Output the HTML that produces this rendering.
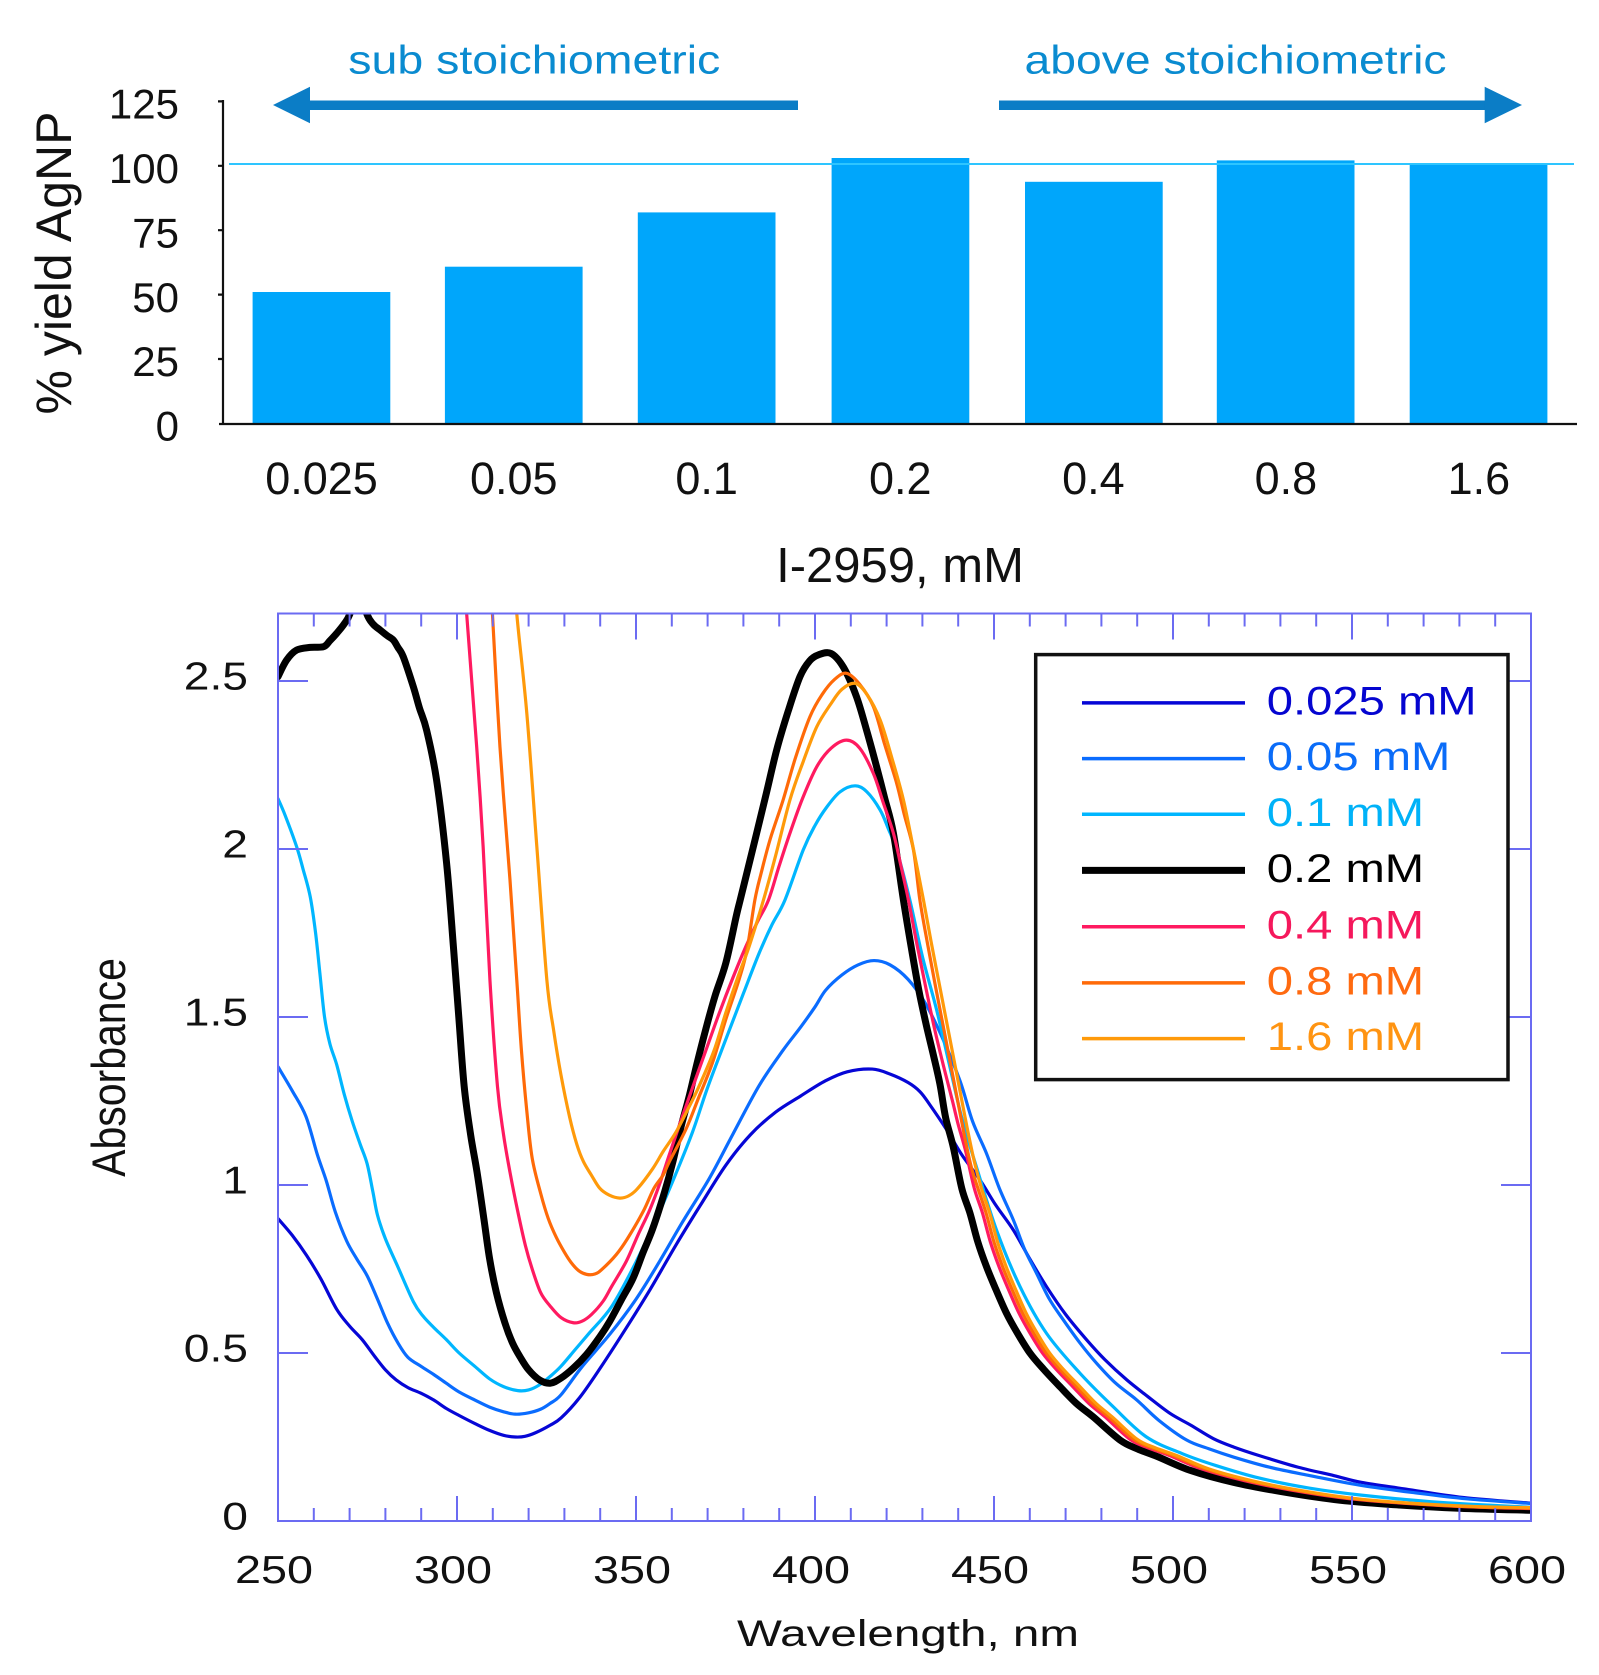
<!DOCTYPE html>
<html>
<head>
<meta charset="utf-8">
<style>
html,body{margin:0;padding:0;background:#fff;}
svg{display:block}
</style>
</head>
<body>
<svg id="chart" width="1599" height="1675" viewBox="0 0 1599 1675" xmlns="http://www.w3.org/2000/svg" font-family="'Liberation Sans', Arial, sans-serif">
<rect x="0" y="0" width="1599" height="1675" fill="#fff"/>

<!-- ===== TOP BAR CHART ===== -->
<text x="348.3" y="73.3" font-size="40" fill="#0a8bd0" textLength="372" lengthAdjust="spacingAndGlyphs">sub stoichiometric</text>
<text x="1024.5" y="73.3" font-size="40" fill="#0a8bd0" textLength="422" lengthAdjust="spacingAndGlyphs">above stoichiometric</text>
<polygon points="273,105 310,86.7 310,123.3" fill="#0b7dc6"/>
<rect x="308" y="100.5" width="490" height="9.5" fill="#0b7dc6"/>
<rect x="999" y="100.5" width="488" height="9.5" fill="#0b7dc6"/>
<polygon points="1522,105 1484.7,86.7 1484.7,123.3" fill="#0b7dc6"/>

<g fill="#00a6fb">
<rect x="252.6" y="292" width="137.7" height="131.6"/>
<rect x="444.9" y="266.7" width="137.7" height="156.9"/>
<rect x="637.8" y="212.4" width="137.7" height="211.2"/>
<rect x="831.6" y="158" width="137.7" height="265.6"/>
<rect x="1025" y="181.8" width="137.7" height="241.8"/>
<rect x="1216.8" y="160.4" width="137.7" height="263.2"/>
<rect x="1409.7" y="164.6" width="137.7" height="259"/>
</g>
<line x1="229" y1="164" x2="1574" y2="164" stroke="#2ec5ff" stroke-width="2"/>

<g stroke="#111" stroke-width="2.2" fill="none">
<line x1="223" y1="100" x2="223" y2="424"/>
<line x1="219" y1="424" x2="1577" y2="424"/>
<path d="M218 101.4H223M218 165.8H223M218 230.2H223M218 294.6H223M218 359H223"/>
</g>

<g font-size="42" fill="#111" text-anchor="end">
<text x="179" y="118.6">125</text>
<text x="179" y="183">100</text>
<text x="179" y="247.4">75</text>
<text x="179" y="311.8">50</text>
<text x="179" y="376.2">25</text>
<text x="179" y="440.6">0</text>
</g>
<text transform="translate(71,263) rotate(-90)" font-size="50" fill="#111" text-anchor="middle">% yield AgNP</text>

<g font-size="45" fill="#111" text-anchor="middle">
<text x="321.5" y="494">0.025</text>
<text x="513.8" y="494">0.05</text>
<text x="706.7" y="494">0.1</text>
<text x="900.3" y="494">0.2</text>
<text x="1093.4" y="494">0.4</text>
<text x="1285.9" y="494">0.8</text>
<text x="1478.9" y="494">1.6</text>
</g>
<text x="900" y="582" font-size="49" fill="#111" text-anchor="middle">I-2959, mM</text>

<!-- ===== BOTTOM SPECTRA CHART ===== -->
<defs>
<clipPath id="pc"><rect x="278" y="613.5" width="1253" height="907.5"/></clipPath>
</defs>

<g clip-path="url(#pc)" fill="none" stroke-linejoin="round" stroke-linecap="round">
<g transform="matrix(3.58 0 0 -336 -617 1521)">
<polyline class="s" vector-effect="non-scaling-stroke" stroke="#0606d6" stroke-width="3.2" points="250,0.90 254,0.85 258,0.79 262,0.72 266.4,0.63 270,0.58 273.5,0.54 277,0.49 280,0.45 283,0.42 286.3,0.397 290,0.38 293.5,0.36 297,0.335 300.6,0.314 305,0.29 309,0.27 313,0.255 316.3,0.25 319,0.252 322,0.263 326,0.285 329.1,0.307 334.3,0.368 340,0.455 347.3,0.575 354,0.69 361.2,0.822 368,0.94 375.1,1.059 382,1.15 389,1.217 396,1.265 402.9,1.31 409,1.337 416,1.345 421,1.33 426,1.305 429.3,1.278 432,1.24 436.8,1.164 441,1.09 446.1,1.015 450.5,0.94 455.4,0.866 460,0.78 464.7,0.697 470,0.615 475.9,0.539 481,0.48 487.1,0.42 493,0.37 499.2,0.32 505,0.285 511.3,0.245 517,0.22 524,0.195 535,0.16 545,0.135 552.6,0.115 565,0.095 581,0.07 600,0.053"/>
<polyline class="s" vector-effect="non-scaling-stroke" stroke="#0a6cff" stroke-width="3.2" points="250,1.352 254,1.28 257.8,1.204 261,1.09 263.5,1.012 266,0.92 269.2,0.833 272,0.78 274.9,0.73 277.8,0.66 280.6,0.589 283.5,0.53 286.3,0.487 290,0.46 293.5,0.436 297,0.41 300.6,0.384 305,0.36 309.1,0.339 313,0.325 316.3,0.318 320,0.322 323.4,0.333 326,0.35 329,0.375 335,0.46 342.7,0.556 350,0.66 356.6,0.773 363,0.89 370.5,1.02 377,1.15 384.4,1.296 391,1.40 396,1.47 400,1.53 403,1.58 407.5,1.625 412,1.655 416.5,1.668 421,1.655 426,1.612 430.7,1.543 435.5,1.44 440.5,1.31 444,1.19 447.9,1.094 451.5,0.99 455.4,0.896 458.5,0.81 461.9,0.737 465.5,0.66 469.4,0.598 474,0.53 478.7,0.469 484,0.41 489.9,0.36 496,0.30 503.8,0.241 510,0.215 517,0.19 527,0.16 538.3,0.135 552,0.107 566.8,0.085 582,0.066 600,0.052"/>
<polyline class="s" vector-effect="non-scaling-stroke" stroke="#00b6ff" stroke-width="3.2" points="250,2.15 252,2.10 255.2,2.007 257,1.94 259,1.858 260.5,1.75 261.7,1.63 263,1.50 264.5,1.42 266.4,1.358 268.5,1.27 270.7,1.191 273,1.12 274.9,1.063 276.5,0.98 277.8,0.91 280,0.84 283.5,0.756 287.8,0.653 290.5,0.61 293.5,0.576 297,0.54 300.6,0.5 305,0.46 309.1,0.423 313,0.40 317,0.388 320,0.39 323,0.405 326,0.43 329,0.46 333,0.51 337,0.56 343.3,0.64 350.1,0.773 356.6,0.921 361,1.03 365.8,1.158 370,1.29 375.1,1.434 380,1.57 384.4,1.69 388,1.775 391.6,1.848 396.7,1.997 400,2.07 403.3,2.125 407,2.17 411.2,2.188 414.5,2.17 418.2,2.116 420.5,2.06 422.8,1.997 426.5,1.848 430,1.68 434,1.52 437.5,1.36 441,1.20 445.2,1.05 450.7,0.866 457.3,0.697 464.7,0.558 474,0.44 483.3,0.34 492.6,0.25 502.7,0.20 512,0.165 524,0.128 538,0.098 552.6,0.077 575,0.055 600,0.041"/>
<polyline class="s" vector-effect="non-scaling-stroke" stroke="#000" stroke-width="7" points="250,2.513 252.4,2.562 255.2,2.592 259,2.600 262.7,2.602 264.5,2.62 266.4,2.642 268.5,2.67 270.1,2.70 272.5,2.78 274.8,2.70 276.5,2.67 278.5,2.652 280.5,2.635 282.2,2.622 283.5,2.60 285,2.572 287.8,2.483 289.5,2.42 291.5,2.354 294.3,2.205 297.1,1.957 299,1.709 300.5,1.5 302,1.294 303.8,1.15 305.6,1.038 307.5,0.9 309.1,0.781 311,0.68 313.4,0.589 315.5,0.53 317.7,0.487 320,0.45 323,0.42 326,0.41 329,0.425 332.5,0.455 336.2,0.496 340,0.55 342.7,0.595 346,0.66 349.2,0.723 352,0.80 354.7,0.871 358,0.98 360.3,1.069 362.5,1.17 364.9,1.266 367,1.36 369.5,1.464 372,1.56 375.1,1.661 378,1.80 379.1,1.848 381,1.93 383.7,2.047 386.5,2.17 389.3,2.295 392.5,2.41 395.8,2.513 398.5,2.56 401,2.578 404.5,2.582 408,2.54 411.6,2.453 414.5,2.35 417.2,2.245 419.5,2.15 421.9,2.047 424.7,1.848 427,1.70 429,1.58 431,1.48 433,1.39 434.9,1.30 436.5,1.20 438.6,1.114 441,0.99 443.3,0.916 445.5,0.83 447.9,0.757 450.5,0.69 453.5,0.618 456.5,0.56 460.1,0.499 464,0.45 468.4,0.40 473,0.35 477.7,0.31 485.2,0.241 490,0.215 495.6,0.192 505,0.15 516.9,0.115 530,0.088 545,0.064 560,0.05 580,0.038 600,0.032"/>
<polyline class="s" vector-effect="non-scaling-stroke" stroke="#ff1a60" stroke-width="3.2" points="302,2.85 302.7,2.7 305.5,2.304 307.3,2.007 309.2,1.61 311.3,1.294 313,1.15 314.8,1.038 317,0.92 319.1,0.82 321,0.75 323.4,0.679 326,0.64 329.1,0.605 332.5,0.59 335,0.595 337.6,0.615 340.8,0.654 343.3,0.70 347.3,0.773 350.5,0.85 353.8,0.925 356.5,1.00 359.3,1.09 362.5,1.19 365.8,1.29 369.5,1.40 373.2,1.51 377,1.615 380.7,1.71 384,1.785 387,1.848 390,1.95 393,2.047 396.5,2.15 400.5,2.245 404.5,2.30 408.8,2.324 412.5,2.30 416.3,2.225 419,2.14 421.9,2.047 424,1.95 426.1,1.848 428.5,1.715 431,1.585 433.5,1.46 436,1.35 438.4,1.25 440,1.18 442.1,1.10 444.5,0.99 446.8,0.916 449,0.83 451.4,0.757 454,0.69 457,0.618 460,0.56 463.6,0.499 467.5,0.45 472,0.40 476.5,0.35 481,0.31 488,0.243 493,0.218 499,0.195 508,0.155 520,0.12 533,0.092 548,0.068 563,0.054 583,0.042 600,0.037"/>
<polyline class="s" vector-effect="non-scaling-stroke" stroke="#ff6a08" stroke-width="3.2" points="309,2.85 309.9,2.7 312,2.304 314.8,1.908 316.7,1.61 318,1.40 319.5,1.22 321,1.08 323.4,0.974 325.5,0.90 327.7,0.845 330,0.80 331.9,0.769 334,0.745 336.2,0.734 338.5,0.735 340.5,0.749 344.5,0.793 347.6,0.84 352,0.921 355,0.99 357.6,1.03 359.3,1.069 364,1.167 367.5,1.26 371.4,1.365 375,1.49 378.8,1.612 381,1.70 383.2,1.848 385,1.93 387.5,2.03 391.1,2.146 394.5,2.27 398.6,2.394 402,2.46 405.5,2.505 408.8,2.523 412.5,2.49 416.3,2.424 419.5,2.31 422.8,2.196 425,2.10 427.5,1.997 429.3,1.848 431.4,1.72 433.5,1.60 435.5,1.49 437.5,1.38 439.5,1.27 441.5,1.16 443.5,1.06 445.5,0.99 447.8,0.916 450,0.83 452.4,0.757 455,0.69 458,0.618 461,0.56 464.6,0.499 468.5,0.45 473,0.40 477.5,0.35 482,0.31 489,0.243 494,0.218 500,0.195 509,0.155 521,0.12 534,0.092 549,0.068 564,0.054 584,0.042 600,0.038"/>
<polyline class="s" vector-effect="non-scaling-stroke" stroke="#ff9a0a" stroke-width="3.2" points="316,2.85 316.7,2.7 319.5,2.404 322.3,2.007 325.1,1.61 327,1.46 329,1.33 331.5,1.20 333.5,1.12 335.3,1.07 337.5,1.03 339.9,0.99 342.5,0.97 345.5,0.961 348,0.968 350.5,0.99 354.7,1.049 357.6,1.10 361.2,1.158 364.7,1.23 367.7,1.296 371.8,1.40 375.1,1.513 378.5,1.62 381.6,1.71 385.6,1.848 389,1.98 393,2.146 396.7,2.26 400.5,2.364 404.3,2.43 407.5,2.475 411.2,2.493 414.5,2.46 418.2,2.384 421.5,2.27 424.7,2.146 427.5,2.0 430.3,1.848 432.5,1.72 434.5,1.61 436.5,1.50 438.5,1.39 440.5,1.28 442.5,1.17 444.5,1.07 446.5,0.99 448.8,0.916 451,0.83 453.4,0.757 456,0.69 459,0.618 462,0.56 465.6,0.499 469.5,0.45 474,0.40 478.5,0.35 483,0.31 490,0.243 495,0.218 501,0.195 510,0.155 522,0.12 535,0.092 550,0.068 565,0.054 585,0.043 600,0.040"/>
</g>
</g>

<!-- axes frame -->
<g stroke="#6b6bf2" stroke-width="2" fill="none">
<rect x="278" y="613.5" width="1253" height="907.5"/>
<path d="M278 1353H308M278 1185H308M278 1017H308M278 849H308M278 681H308M1501 1353H1531M1501 1185H1531M1501 1017H1531M1501 849H1531M1501 681H1531"/>
<path d="M313.8 1521V1508M349.6 1521V1508M385.4 1521V1508M421.2 1521V1508M492.8 1521V1508M528.6 1521V1508M564.4 1521V1508M600.2 1521V1508M671.8 1521V1508M707.6 1521V1508M743.4 1521V1508M779.2 1521V1508M850.8 1521V1508M886.6 1521V1508M922.4 1521V1508M958.2 1521V1508M1029.8 1521V1508M1065.6 1521V1508M1101.4 1521V1508M1137.2 1521V1508M1208.8 1521V1508M1244.6 1521V1508M1280.4 1521V1508M1316.2 1521V1508M1387.8 1521V1508M1423.6 1521V1508M1459.4 1521V1508M1495.2 1521V1508"/>
<path d="M457 1521V1496M636 1521V1496M815 1521V1496M994 1521V1496M1173 1521V1496M1352 1521V1496"/>
<path d="M313.8 613.5V626.5M349.6 613.5V626.5M385.4 613.5V626.5M421.2 613.5V626.5M492.8 613.5V626.5M528.6 613.5V626.5M564.4 613.5V626.5M600.2 613.5V626.5M671.8 613.5V626.5M707.6 613.5V626.5M743.4 613.5V626.5M779.2 613.5V626.5M850.8 613.5V626.5M886.6 613.5V626.5M922.4 613.5V626.5M958.2 613.5V626.5M1029.8 613.5V626.5M1065.6 613.5V626.5M1101.4 613.5V626.5M1137.2 613.5V626.5M1208.8 613.5V626.5M1244.6 613.5V626.5M1280.4 613.5V626.5M1316.2 613.5V626.5M1387.8 613.5V626.5M1423.6 613.5V626.5M1459.4 613.5V626.5M1495.2 613.5V626.5"/>
<path d="M457 613.5V639.5M636 613.5V639.5M815 613.5V639.5M994 613.5V639.5M1173 613.5V639.5M1352 613.5V639.5"/>
</g>

<!-- y tick labels -->
<g font-size="38.5" fill="#111" text-anchor="end">
<text transform="translate(248,1529.5) scale(1.2,1)">0</text>
<text transform="translate(248,1361.5) scale(1.2,1)">0.5</text>
<text transform="translate(248,1193.5) scale(1.2,1)">1</text>
<text transform="translate(248,1025.5) scale(1.2,1)">1.5</text>
<text transform="translate(248,857.5) scale(1.2,1)">2</text>
<text transform="translate(248,689.5) scale(1.2,1)">2.5</text>
</g>
<!-- x tick labels -->
<g font-size="39" fill="#111" text-anchor="middle">
<text transform="translate(274,1583) scale(1.2,1)">250</text>
<text transform="translate(453,1583) scale(1.2,1)">300</text>
<text transform="translate(632,1583) scale(1.2,1)">350</text>
<text transform="translate(811,1583) scale(1.2,1)">400</text>
<text transform="translate(990,1583) scale(1.2,1)">450</text>
<text transform="translate(1169,1583) scale(1.2,1)">500</text>
<text transform="translate(1348,1583) scale(1.2,1)">550</text>
<text transform="translate(1527,1583) scale(1.2,1)">600</text>
</g>
<text x="737" y="1646" font-size="37" fill="#111" textLength="342" lengthAdjust="spacingAndGlyphs">Wavelength, nm</text>
<text transform="translate(125,1067.5) scale(1.15,1) rotate(-90)" font-size="41" fill="#111" text-anchor="middle">Absorbance</text>

<!-- legend -->
<rect x="1035.7" y="654.6" width="472.3" height="425" fill="#fff" stroke="#111" stroke-width="3.5"/>
<g stroke-width="3.5">
<line x1="1082" y1="702.9" x2="1245" y2="702.9" stroke="#0606d6"/>
<line x1="1082" y1="758.6" x2="1245" y2="758.6" stroke="#0a6cff"/>
<line x1="1082" y1="814.3" x2="1245" y2="814.3" stroke="#00b6ff"/>
<line x1="1082" y1="870.4" x2="1245" y2="870.4" stroke="#000" stroke-width="7"/>
<line x1="1082" y1="926.8" x2="1245" y2="926.8" stroke="#ff1a60"/>
<line x1="1082" y1="982.9" x2="1245" y2="982.9" stroke="#ff6a08"/>
<line x1="1082" y1="1038.6" x2="1245" y2="1038.6" stroke="#ff9a0a"/>
</g>
<g font-size="40">
<text transform="translate(1266.8,714.4) scale(1.18,1)" fill="#0505d0">0.025 mM</text>
<text transform="translate(1266.8,770.1) scale(1.18,1)" fill="#0a6cf8">0.05 mM</text>
<text transform="translate(1266.8,825.8) scale(1.18,1)" fill="#00b2f8">0.1 mM</text>
<text transform="translate(1266.8,881.9) scale(1.18,1)" fill="#000">0.2 mM</text>
<text transform="translate(1266.8,938.3) scale(1.18,1)" fill="#f5185c">0.4 mM</text>
<text transform="translate(1266.8,994.4) scale(1.18,1)" fill="#ff6a10">0.8 mM</text>
<text transform="translate(1266.8,1050.1) scale(1.18,1)" fill="#ff9412">1.6 mM</text>
</g>
</svg>
<script>
(function(){
  try{
    var ns="http://www.w3.org/2000/svg";
    var pls=document.querySelectorAll('polyline.s');
    for(var k=0;k<pls.length;k++){
      var pl=pls[k];
      var raw=pl.getAttribute('points').trim().split(/\s+/);
      var p=raw.map(function(s){var a=s.split(',');return [parseFloat(a[0]),parseFloat(a[1])];});
      if(p.length<3) continue;
      var d='M'+p[0][0]+','+p[0][1];
      for(var i=0;i<p.length-1;i++){
        var p0=p[i>0?i-1:0],p1=p[i],p2=p[i+1],p3=p[i+2<p.length?i+2:p.length-1];
        var c1x=p1[0]+(p2[0]-p0[0])/6,c1y=p1[1]+(p2[1]-p0[1])/6;
        var c2x=p2[0]-(p3[0]-p1[0])/6,c2y=p2[1]-(p3[1]-p1[1])/6;
        d+=' C'+c1x.toFixed(3)+','+c1y.toFixed(4)+' '+c2x.toFixed(3)+','+c2y.toFixed(4)+' '+p2[0]+','+p2[1];
      }
      var path=document.createElementNS(ns,'path');
      path.setAttribute('d',d);
      path.setAttribute('fill','none');
      path.setAttribute('stroke',pl.getAttribute('stroke'));
      path.setAttribute('stroke-width',pl.getAttribute('stroke-width'));
      path.setAttribute('vector-effect','non-scaling-stroke');
      path.setAttribute('stroke-linejoin','round');
      path.setAttribute('stroke-linecap','round');
      pl.parentNode.replaceChild(path,pl);
    }
  }catch(e){}
})();
</script>
</body>
</html>
